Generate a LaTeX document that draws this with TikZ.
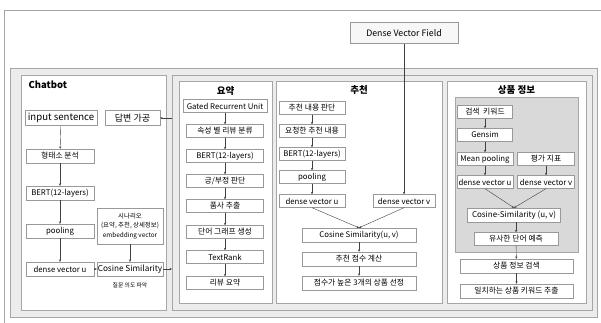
\documentclass[tikz,border=0pt]{standalone}
\usepackage{fontspec}
\setmainfont{Noto Sans CJK KR}
\usetikzlibrary{arrows.meta,positioning}

\tikzset{
  box/.style={draw=gray!80, fill=white, inner sep=0pt, minimum height=12,
    font=\fontsize{7.8}{9}\selectfont},
  tray/.style={draw=gray!70, fill=gray!15},
  panel/.style={draw=gray!70, fill=white},
  head/.style={font=\fontsize{9.5}{11}\selectfont\bfseries},
  link/.style={draw=gray!50!black, -{Stealth[length=2.4pt,width=2.2pt]}},
}

\begin{document}
\begin{tikzpicture}[x=1pt,y=-1pt]
\useasboundingbox (0,0) rectangle (601,323);
% outer frame and containers
\draw[gray!70] (4,330) -- (4,10) -- (610,10);
\draw[tray] (10,68) rectangle (597,317);
\node[panel, minimum width=145, minimum height=235, anchor=north west, inner sep=0pt] (chat) at (21,75) {};
\node[tray, minimum width=420, minimum height=235, anchor=north west, inner sep=0pt] (core) at (172,75) {};
\node[panel, minimum width=93, minimum height=222, anchor=north west, inner sep=0pt] (sumbox) at (179,81) {};
\node[panel, minimum width=166, minimum height=222, anchor=north west, inner sep=0pt] (recbox) at (276,81) {};
\node[panel, minimum width=139, minimum height=222, anchor=north west, inner sep=0pt] (infobox) at (447,81) {};
\node[draw=gray!70, fill=gray!30, minimum width=123, minimum height=155, anchor=north west, inner sep=0pt] (simbox) at (455,97) {};

% headings
\node[head, anchor=west] (cbt) at (25,85) {Chatbot};
\node[head] (sumh) at (225.5,91) {요약};
\node[head] (rech) at (359,90) {추천};
\node[head] (infoh) at (516.5,90) {상품 정보};

% dense vector field
\node[box, fill=gray!6, minimum width=108, minimum height=21,
  font=\fontsize{8.8}{10}\selectfont] (dvf) at (404,33) {Dense Vector Field};

% Chatbot column
\node[box, minimum width=72, minimum height=15, font=\fontsize{9.6}{11}\selectfont] (ins) at (61,118) {input sentence};
\node[box, minimum width=55, minimum height=15, font=\fontsize{9}{10}\selectfont] (ans) at (132.5,118) {답변 가공};
\foreach \nm/\y/\txt in {morph/156/형태소 분석, cbert/193/BERT(12-layers),
  cpool/231/pooling, cvec/269/dense vector u}{%
  \node[box, minimum width=68, minimum height=14] (\nm) at (60,\y) {\txt};
}
\node[box, minimum width=66, minimum height=36, align=center,
  font=\fontsize{6.4}{9.5}\selectfont] (scen) at (130,226)
  {시나리오\\(요약, 추천, 상세정보)\\embedding vector};
\node[box, minimum width=66, minimum height=14, font=\fontsize{8.2}{9}\selectfont] (ccos) at (130,269) {Cosine Similarity};
\node[font=\fontsize{5.8}{6}\selectfont] (intent) at (130,285) {질문 의도 파악};
\foreach \a/\b in {ins/morph, morph/cbert, cbert/cpool, cpool/cvec, cvec/ccos, scen/ccos}
  \draw[link] (\a) -- (\b);
\draw[link] (ccos.east) -- (ccos.east -| core.west);
\draw[link] (ans.east -| core.west) -- (ans.east);

% summary column
\foreach \nm/\y/\w/\txt in {s1/106/84/Gated Recurrent Unit, s2/131/77/속성 별 리뷰 분류,
  s3/156/77/BERT(12-layers), s4/181/77/{긍/부정 판단}, s5/206/77/품사 추출,
  s6/232/77/단어 그래프 생성, s7/257/77/TextRank, s8/283/77/리뷰 요약}{%
  \node[box, minimum width=\w, minimum height=13] (\nm) at (225,\y) {\txt};
}
\foreach \a/\b in {s1/s2, s2/s3, s3/s4, s4/s5, s5/s6, s6/s7, s7/s8}
  \draw[link] (\a) -- (\b);

% recommendation column
\foreach \nm/\y/\txt in {r1/108/추천 내용 판단, r2/131/요청한 추천 내용,
  r3/154/BERT(12-layers), r4/177/pooling, r5/201/dense vector u}{%
  \node[box, minimum width=66, minimum height=13] (\nm) at (312,\y) {\txt};
}
\node[box, minimum width=62, minimum height=13] (rv) at (404,201) {dense vector v};
\foreach \nm/\y/\txt in {rc/235/{Cosine Similarity(u, v)}, rs/259/추천 점수 계산,
  rt/283/점수가 높은 3개의 상품 선정}{%
  \node[box, minimum width=114, minimum height=14] (\nm) at (359,\y) {\txt};
}
\foreach \a/\b in {r1/r2, r2/r3, r3/r4, r4/r5, rc/rs, rs/rt}
  \draw[link] (\a) -- (\b);
\draw[link] (r5.south) -- (rc.north);
\draw[link] (rv.south) -- (rc.north);
\draw[link] (dvf) -- (rv);

% product info column
\foreach \nm/\x/\y/\w/\txt in {p1/485/112/55/검색~~키워드, p2/485/135/55/Gensim,
  p3/485/159/56/Mean pooling, pe/546/159/57/평가 지표,
  pu/485/182/56/dense vector u, pv/546/182/57/dense vector v}{%
  \node[box, minimum width=\w, minimum height=13] (\nm) at (\x,\y) {\txt};
}
\node[box, minimum width=93, minimum height=14, font=\fontsize{8}{9}\selectfont] (pc) at (514,215) {Cosine-Similarity (u, v)};
\node[box, minimum width=84, minimum height=13] (pp) at (516,239) {유사한 단어 예측};
\node[box, minimum width=113, minimum height=14] (pq) at (516.5,266) {상품 정보 검색};
\node[box, minimum width=113, minimum height=14] (pr) at (516.5,291) {일치하는 상품 키워드 추출};
\foreach \a/\b in {p1/p2, p2/p3, p3/pu, pe/pv, pp/pq, pq/pr}
  \draw[link] (\a) -- (\b);
\draw[link] (pu.south) -- (pc.north);
\draw[link] (pv.south) -- (pc.north);
\draw[link] (pc.south -| pp.north) -- (pp.north);
\end{tikzpicture}
\end{document}
